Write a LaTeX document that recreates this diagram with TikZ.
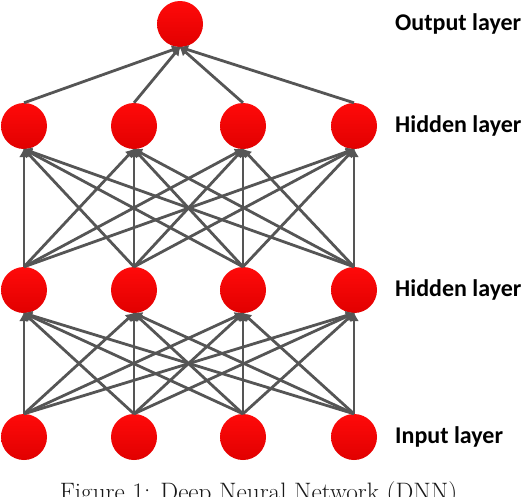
\documentclass[tikz,border=0pt]{standalone}
\usepackage{fontspec}
\newfontfamily\labfont{Carlito}
\usetikzlibrary{arrows.meta}
\definecolor{edgegray}{RGB}{85,85,85}
\definecolor{nodetop}{RGB}{255,10,10}
\definecolor{nodebot}{RGB}{225,0,0}
\begin{document}
\begin{tikzpicture}[x=1pt,y=-1pt,
  neuron/.style={circle,minimum size=46pt,inner sep=0pt,top color=nodetop,bottom color=nodebot,draw=none},
  conn/.style={draw=edgegray,line width=2.8pt,-{Latex[length=9pt,width=10pt]},shorten >=-1pt},
  layerlabel/.style={anchor=west,inner sep=0pt,font=\labfont\bfseries\fontsize{24}{28}\selectfont},
  captionstyle/.style={anchor=base,inner sep=0pt,font=\fontsize{25.2}{30}\selectfont,text=black!90}]
\useasboundingbox (0,0) rectangle (524,496);
% nodes
\node[neuron] (o) at (180,24) {};
\foreach \i/\x in {1/24,2/134,3/243,4/354}{
  \node[neuron] (h2\i) at (\x,126) {};
  \node[neuron] (h1\i) at (\x,290) {};
  \node[neuron] (in\i) at (\x,437) {};
}
% connectors
\foreach \i in {1,2,3,4}{
  \foreach \j in {1,2,3,4}{
    \draw[conn] (in\i.north) -- (h1\j.south);
    \draw[conn] (h1\i.north) -- (h2\j.south);
  }
  \draw[conn] (h2\i.north) -- (o.south);
}
% labels
\node[layerlabel] (lo) at (395,24) {Output layer};
\node[layerlabel] (lh2) at (395,126) {Hidden layer};
\node[layerlabel] (lh1) at (395,290) {Hidden layer};
\node[layerlabel] (li) at (395,437) {Input layer};
\node[captionstyle] (cap) at (258.5,500) {Figure 1: Deep Neural Network (DNN)};
\end{tikzpicture}
\end{document}
